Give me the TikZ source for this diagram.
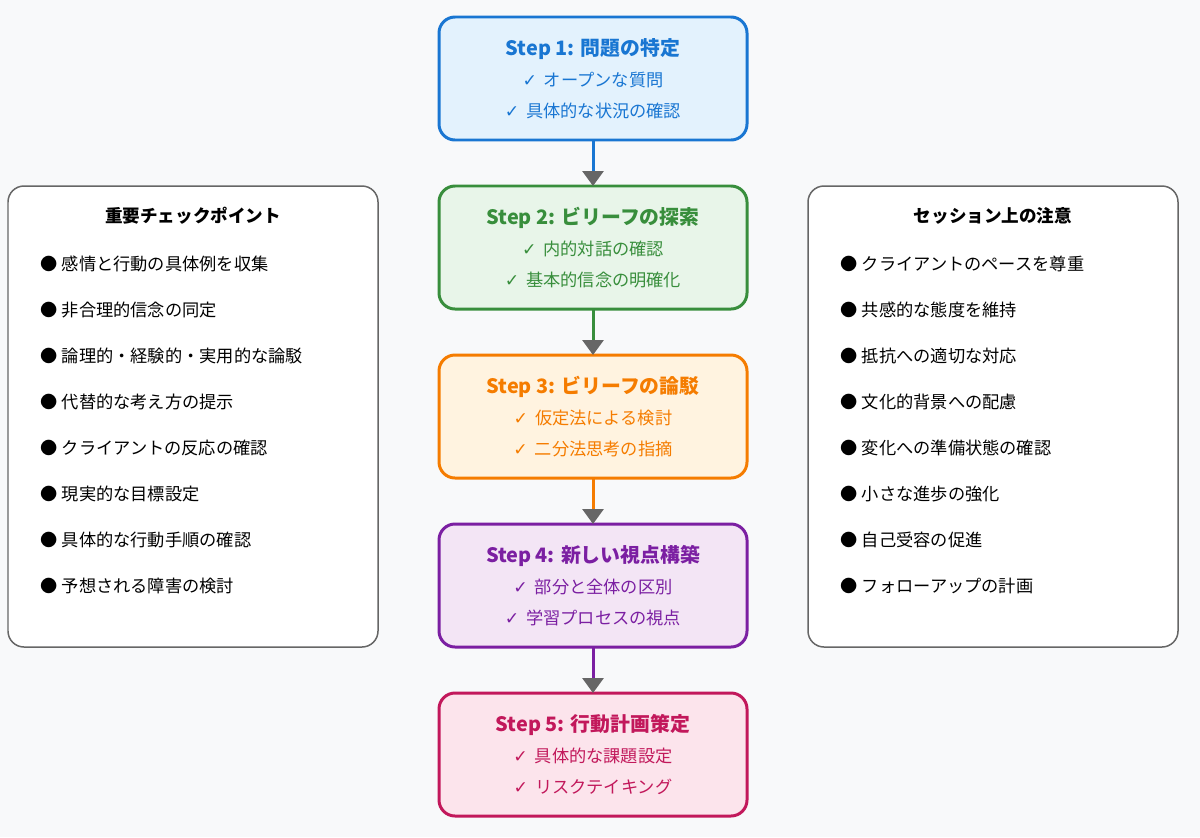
\documentclass[tikz,border=0pt]{standalone}
\usepackage{fontspec}
\setmainfont{Noto Sans CJK JP}
\newfontfamily\checkfont{DejaVu Sans}
\usetikzlibrary{positioning,arrows.meta}

\definecolor{pagebg}{HTML}{F8F9FA}
\definecolor{panelline}{HTML}{666666}
\definecolor{tipgray}{HTML}{666666}
\definecolor{blueline}{HTML}{1976D2}
\definecolor{bluefill}{HTML}{E3F2FD}
\definecolor{greenline}{HTML}{388E3C}
\definecolor{greenfill}{HTML}{E8F5E9}
\definecolor{orangeline}{HTML}{F57C00}
\definecolor{orangefill}{HTML}{FFF3E0}
\definecolor{purpleline}{HTML}{7B1FA2}
\definecolor{purplefill}{HTML}{F3E5F5}
\definecolor{pinkline}{HTML}{C2185B}
\definecolor{pinkfill}{HTML}{FCE4EC}

\newcommand{\steptitle}[1]{{\fontsize{11.3}{17.6}\selectfont\bfseries #1}}
\newcommand{\chkmark}{{\checkfont ✓}\hspace{0.4em}}
\newcommand{\dotmark}{●\hspace{0.25em}}

\begin{document}
\begin{tikzpicture}[
  stepbox/.style={draw, rounded corners=0.32cm, line width=1.7pt,
    minimum width=6.16cm, minimum height=2.46cm, outer sep=0pt,
    align=center, font=\fontsize{9.8}{17.6}\selectfont},
  panel/.style={draw=panelline, fill=white, rounded corners=0.32cm,
    line width=0.85pt, minimum width=7.4cm, minimum height=9.22cm,
    outer sep=0pt},
  paneltitle/.style={inner sep=0pt, font=\fontsize{10}{12}\selectfont\bfseries},
  item/.style={inner sep=0pt, anchor=west, font=\fontsize{9.8}{12}\selectfont},
  flow/.style={line width=1.7pt,
    -{Triangle[length=0.3cm,width=0.42cm,color=tipgray]}},
]

\fill[pagebg] (0,0) rectangle (24,-16.74);

% flow of steps
\node[stepbox, draw=blueline, fill=bluefill, text=blueline] (S1) at (11.86,-1.57)
  {\steptitle{Step 1: 問題の特定}\\ \chkmark オープンな質問\\ \chkmark 具体的な状況の確認};
\node[stepbox, draw=greenline, fill=greenfill, text=greenline, below=0.92cm of S1] (S2)
  {\steptitle{Step 2: ビリーフの探索}\\ \chkmark 内的対話の確認\\ \chkmark 基本的信念の明確化};
\node[stepbox, draw=orangeline, fill=orangefill, text=orangeline, below=0.92cm of S2] (S3)
  {\steptitle{Step 3: ビリーフの論駁}\\ \chkmark 仮定法による検討\\ \chkmark 二分法思考の指摘};
\node[stepbox, draw=purpleline, fill=purplefill, text=purpleline, below=0.92cm of S3] (S4)
  {\steptitle{Step 4: 新しい視点構築}\\ \chkmark 部分と全体の区別\\ \chkmark 学習プロセスの視点};
\node[stepbox, draw=pinkline, fill=pinkfill, text=pinkline, below=0.92cm of S4] (S5)
  {\steptitle{Step 5: 行動計画策定}\\ \chkmark 具体的な課題設定\\ \chkmark リスクテイキング};

\draw[flow, blueline] (S1) -- (S2);
\draw[flow, greenline] (S2) -- (S3);
\draw[flow, orangeline] (S3) -- (S4);
\draw[flow, purpleline] (S4) -- (S5);

% left panel
\node[panel, left=1.22cm of S2.north west, anchor=north east] (CP) {};
\node[paneltitle, below=0.6cm of CP.north, anchor=center] (CPT) {重要チェックポイント};
\node[item, below=1.56cm of CP.north west, xshift=0.64cm, anchor=west] (CP1) {\dotmark 感情と行動の具体例を収集};
\node[item, below=0.92cm of CP1.west, anchor=west] (CP2) {\dotmark 非合理的信念の同定};
\node[item, below=0.92cm of CP2.west, anchor=west] (CP3) {\dotmark 論理的・経験的・実用的な論駁};
\node[item, below=0.92cm of CP3.west, anchor=west] (CP4) {\dotmark 代替的な考え方の提示};
\node[item, below=0.92cm of CP4.west, anchor=west] (CP5) {\dotmark クライアントの反応の確認};
\node[item, below=0.92cm of CP5.west, anchor=west] (CP6) {\dotmark 現実的な目標設定};
\node[item, below=0.92cm of CP6.west, anchor=west] (CP7) {\dotmark 具体的な行動手順の確認};
\node[item, below=0.92cm of CP7.west, anchor=west] (CP8) {\dotmark 予想される障害の検討};

% right panel
\node[panel, right=1.22cm of S2.north east, anchor=north west] (SN) {};
\node[paneltitle, below=0.6cm of SN.north, anchor=center] (SNT) {セッション上の注意};
\node[item, below=1.56cm of SN.north west, xshift=0.64cm, anchor=west] (SN1) {\dotmark クライアントのペースを尊重};
\node[item, below=0.92cm of SN1.west, anchor=west] (SN2) {\dotmark 共感的な態度を維持};
\node[item, below=0.92cm of SN2.west, anchor=west] (SN3) {\dotmark 抵抗への適切な対応};
\node[item, below=0.92cm of SN3.west, anchor=west] (SN4) {\dotmark 文化的背景への配慮};
\node[item, below=0.92cm of SN4.west, anchor=west] (SN5) {\dotmark 変化への準備状態の確認};
\node[item, below=0.92cm of SN5.west, anchor=west] (SN6) {\dotmark 小さな進歩の強化};
\node[item, below=0.92cm of SN6.west, anchor=west] (SN7) {\dotmark 自己受容の促進};
\node[item, below=0.92cm of SN7.west, anchor=west] (SN8) {\dotmark フォローアップの計画};

\end{tikzpicture}
\end{document}
